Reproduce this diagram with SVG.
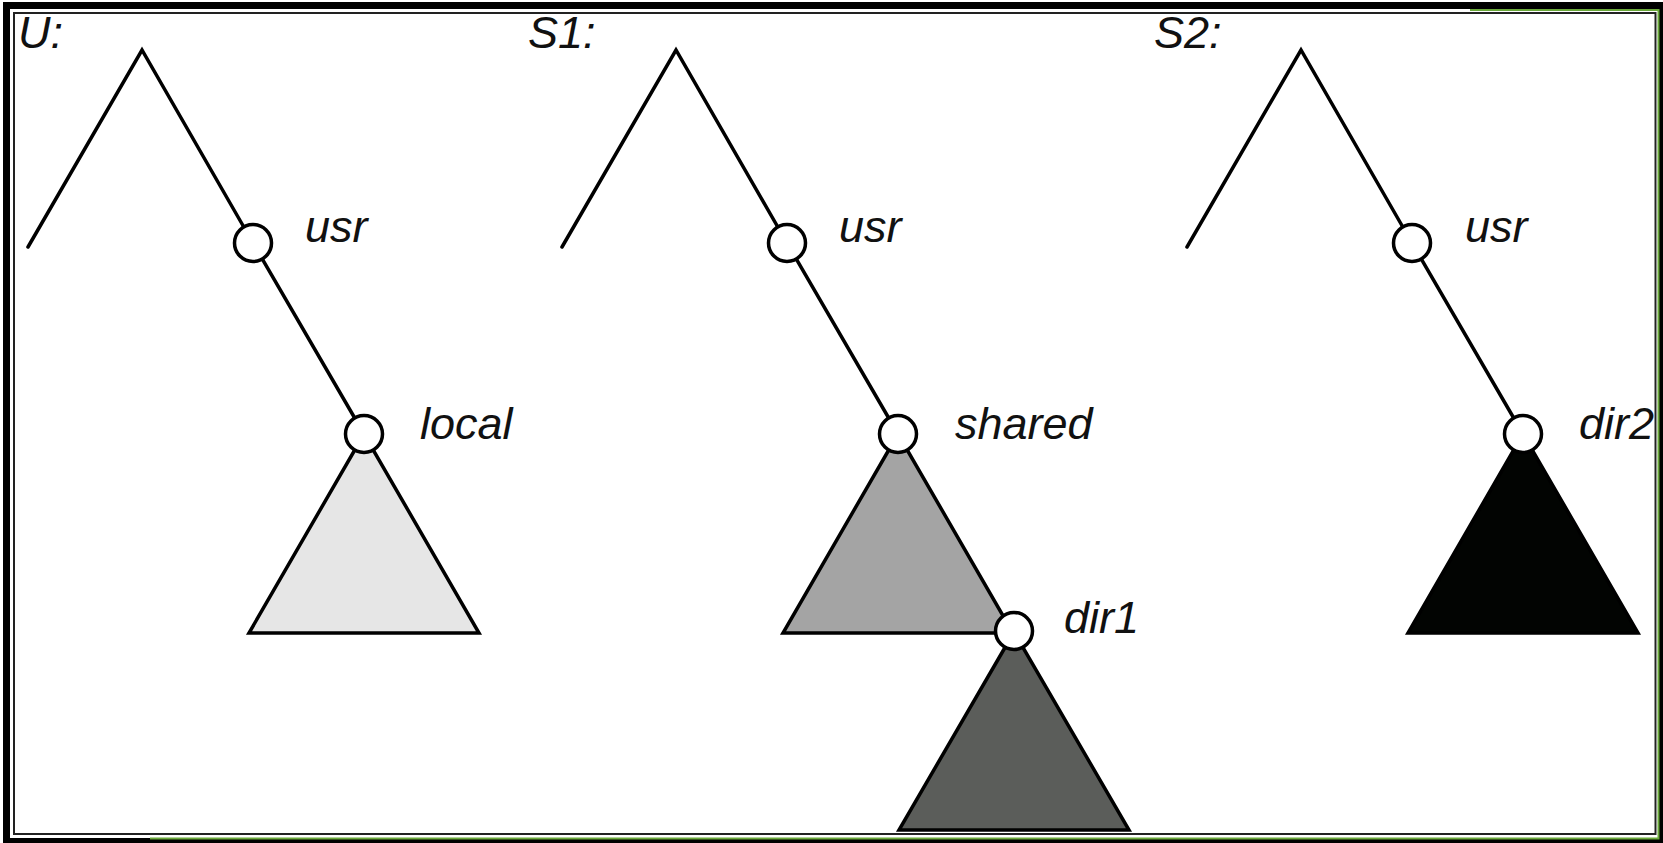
<svg xmlns="http://www.w3.org/2000/svg" width="1663" height="843" viewBox="0 0 1663 843">
<style>
.lbl{font-family:"Liberation Sans",Arial,sans-serif;font-style:italic;font-size:45px;fill:#111}
.edge{stroke:#000;stroke-width:3.5;fill:none;stroke-linecap:round}
.node{fill:#fff;stroke:#000;stroke-width:3.5}
.tri{stroke:#000;stroke-width:3.5;stroke-linejoin:miter}
</style>
<rect x="0" y="0" width="1663" height="843" fill="#fff"/>
<g id="frame">
<path d="M3,2 H1663 V843 H3 Z M10,9 V838 H1658 V9 Z" fill="#000" fill-rule="evenodd"/>
<path d="M1470,10 H1658.5 V838.5 H150" fill="none" stroke="#6aa83a" stroke-width="2"/>
<rect x="14" y="13" width="1641.5" height="821" fill="none" stroke="#222" stroke-width="2"/>
</g>
<g id="titles">
<text class="lbl" x="18" y="48">U:</text>
<text class="lbl" x="528" y="48">S1:</text>
<text class="lbl" x="1154" y="48">S2:</text>
</g>
<g id="subtrees">
<g id="tri-local"><polygon class="tri" points="364,434 249,633 479,633" fill="#e6e6e6"/></g>
<g id="tri-shared"><polygon class="tri" points="898,434 783,633 1013,633" fill="#a4a4a4"/></g>
<g id="tri-dir1"><polygon class="tri" points="1014,632 899,830 1129,830" fill="#5b5d5a"/></g>
<g id="tri-dir2"><polygon class="tri" points="1523,434 1408,633 1638,633" fill="#020402"/></g>
</g>
<g id="connectors">
<path class="edge" d="M28,247 L142,50 L253,243 L364,434"/>
<path class="edge" d="M562,247 L676,50 L787,243 L898,434"/>
<path class="edge" d="M1187,247 L1301,50 L1412,243 L1523,434"/>
</g>
<g id="node-U-usr"><circle class="node" cx="253" cy="243" r="18.5"/><text class="lbl" x="305" y="242">usr</text></g>
<g id="node-U-local"><circle class="node" cx="364" cy="434" r="18.5"/><text class="lbl" x="420" y="439">local</text></g>
<g id="node-S1-usr"><circle class="node" cx="787" cy="243" r="18.5"/><text class="lbl" x="839" y="242">usr</text></g>
<g id="node-S1-shared"><circle class="node" cx="898" cy="434" r="18.5"/><text class="lbl" x="955" y="439">shared</text></g>
<g id="node-S1-dir1"><circle class="node" cx="1014" cy="631" r="18.5"/><text class="lbl" x="1064" y="633">dir1</text></g>
<g id="node-S2-usr"><circle class="node" cx="1412" cy="243" r="18.5"/><text class="lbl" x="1465" y="242">usr</text></g>
<g id="node-S2-dir2"><circle class="node" cx="1523" cy="434" r="18.5"/><text class="lbl" x="1579" y="439">dir2</text></g>
</svg>
